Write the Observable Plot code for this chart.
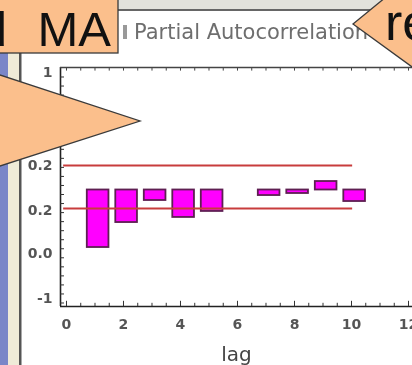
<!DOCTYPE html>
<html>
<head>
<meta charset="utf-8">
<script src="https://cdn.jsdelivr.net/npm/d3@7"></script>
<script src="https://cdn.jsdelivr.net/npm/@observablehq/plot@0.6"></script>
<style>
  html, body { margin: 0; padding: 0; background: #fff; }
  #wrap { position: relative; width: 412px; height: 365px; overflow: hidden; background: #fff; filter: blur(0.45px); }
  #wrap > svg { position: absolute; left: 0; top: 0; }
</style>
</head>
<body>
<div id="wrap"></div>
<script>
// ---- data ----
const lags = [1, 2, 3, 4, 5, 7, 8, 9, 10];
const pacf = [-0.509, -0.288, -0.093, -0.243, -0.190, -0.049, -0.031, 0.075, -0.102];
const limits = [0.217, -0.164];              // red significance lines
const xTickValues = [0, 2, 4, 6, 8, 10, 12];
const xTickLabels = ["0", "2", "4", "6", "8", "10", "12"];
const yTickValues = [1.04, 0.217, -0.181, -0.562, -0.96];
const yTickLabels = ["1", "0.2", "0.2", "0.0", "-1"];
const title = "Partial Autocorrelation";
const xLabel = "lag";
const bubbleLeft = "d MA";
const bubbleRight = "re";

const bars = lags.map((lag, i) => ({lag, value: pacf[i]}));

const xDom = [-0.21, 12.14];
const yDom = [-1.031, 1.084];
const xMinor = d3.range(0, 12.01, 0.5);
const yMinor = d3.range(-1.0, 1.08, 0.08);
const tx = 4 / 28.5, ty = 4 / 113;

const chart = Plot.plot({
  width: 412,
  height: 365,
  marginLeft: 60,
  marginRight: 0,
  marginTop: 67,
  marginBottom: 59,
  style: {background: "transparent", color: "#333"},
  x: {domain: xDom, axis: null},
  y: {domain: yDom, axis: null},
  marks: [
    Plot.rect(bars, {
      x1: d => d.lag - 0.27, x2: d => d.lag + 0.49,
      y1: 0, y2: "value",
      fill: "#ff00ff", stroke: "#5e1f52", strokeWidth: 1.8
    }),
    Plot.ruleY(limits, {x1: -0.1, x2: 10.04, stroke: "#c83c3c", strokeWidth: 2}),
    // frame lines
    Plot.ruleX([xDom[0]], {y1: yDom[0], y2: yDom[1], stroke: "#222", strokeWidth: 1.6}),
    Plot.ruleY([yDom[0]], {x1: xDom[0], x2: xDom[1], stroke: "#222", strokeWidth: 1.6}),
    Plot.ruleY([yDom[1]], {x1: xDom[0], x2: xDom[1], stroke: "#444", strokeWidth: 1.4}),
    // minor ticks (inward)
    Plot.ruleX(xMinor, {y1: yDom[0], y2: d => yDom[0] + (d % 2 === 0 ? ty * 1.3 : ty * 0.8), stroke: "#333", strokeWidth: 1}),
    Plot.ruleX(xMinor, {y1: yDom[1], y2: yDom[1] - ty * 0.9, stroke: "#444", strokeWidth: 1}),
    Plot.ruleY(yMinor, {x1: xDom[0], x2: xDom[0] + tx, stroke: "#333", strokeWidth: 1}),
    // axes labels
    Plot.axisX({anchor: "bottom", ticks: xTickValues, tickFormat: (d, i) => xTickLabels[i],
      tickSize: 0, tickPadding: 13, fontSize: 14, fontFamily: "DejaVu Sans", fontWeight: "bold", fill: "#555", label: null}),
    Plot.axisY({anchor: "left", ticks: yTickValues, tickFormat: (d, i) => yTickLabels[i],
      tickSize: 0, tickPadding: 8, fontSize: 14, fontFamily: "DejaVu Sans", fontWeight: "bold", fill: "#555", label: null}),
    Plot.text([xLabel], {frameAnchor: "bottom", dy: 54, text: d => d, fontSize: 20,
      fontFamily: "DejaVu Sans", fill: "#444"})
  ]
});

const wrap = document.getElementById("wrap");
wrap.appendChild(chart);

// ---- window chrome and callout overlays ----
const ns = "http://www.w3.org/2000/svg";
const ov = document.createElementNS(ns, "svg");
ov.setAttribute("width", 412);
ov.setAttribute("height", 365);
ov.innerHTML = `
  <rect x="0" y="0" width="412" height="9" fill="#e2e2dc"/>
  <rect x="0" y="9" width="412" height="2" fill="#666"/>
  <rect x="0" y="0" width="8" height="365" fill="#7a86c8"/>
  <rect x="8" y="0" width="11" height="365" fill="#efebd8"/>
  <rect x="19" y="0" width="2.5" height="365" fill="#555"/>
  <rect x="123" y="25" width="4" height="14" fill="#999"/>
  <text x="134" y="39" font-family="DejaVu Sans, sans-serif" font-size="21" fill="#6e6e6e">${title}</text>
  <rect x="-3" y="-3" width="121" height="56" fill="#fbbf8c" stroke="#3a3a3a" stroke-width="1.3"/>
  <text x="111" y="46" text-anchor="end" font-family="Liberation Sans, Arial, sans-serif" font-size="49" word-spacing="17" fill="#111">${bubbleLeft}</text>
  <polygon points="-3,74 140,121 -3,167" fill="#fbbf8c" stroke="#3a3a3a" stroke-width="1.3"/>
  <polygon points="353,24 386,-3 415,-3 415,69" fill="#fbbf8c" stroke="#3a3a3a" stroke-width="1.3"/>
  <text x="385" y="40" font-family="Liberation Sans, Arial, sans-serif" font-size="52" fill="#111">${bubbleRight}</text>
`;
wrap.appendChild(ov);
</script>
</body>
</html>
